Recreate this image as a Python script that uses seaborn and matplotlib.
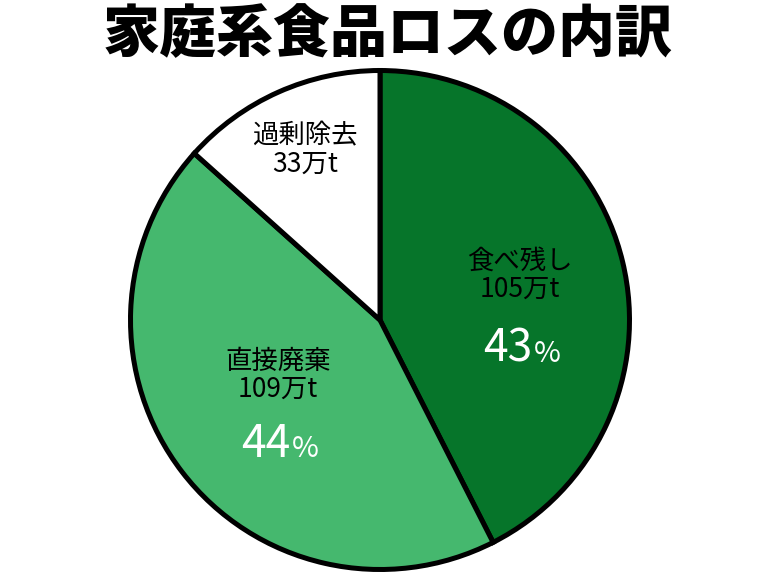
import matplotlib
matplotlib.use("Agg")
import matplotlib.pyplot as plt
import seaborn as sns

TITLE = "家庭系食品ロスの内訳"
categories = ["食べ残し", "直接廃棄", "過剰除去"]
amounts = [105, 109, 33]  # 万t
colors = ["#06752a", "#45b86e", "#ffffff"]
show_pct = [True, True, False]

# label placement in pie data coordinates (name block, percent)
name_pos = [(0.56, 0.18), (-0.41, -0.22), (-0.30, 0.68)]
pct_pos = [(0.61, -0.168), (-0.36, -0.549)]

sns.set_theme(style="white")
plt.rcParams["font.family"] = ["Noto Sans CJK JP", "DejaVu Sans"]

fig = plt.figure(figsize=(7.68, 5.76), dpi=100)
ax = fig.add_axes([130.5 / 768, 6.5 / 576, 499 / 768, 499 / 576])

ax.pie(amounts, colors=colors, startangle=90, counterclock=False, radius=1,
       wedgeprops=dict(edgecolor="black", linewidth=3.6))
ax.set_xlim(-1, 1)
ax.set_ylim(-1, 1)
ax.set_aspect("equal")
ax.axis("off")

total = sum(amounts)
for name, amt, (x, y) in zip(categories, amounts, name_pos):
    ax.text(x, y, f"{name}\n{amt}万t", ha="center", va="center",
            fontsize=19, color="black", linespacing=1.05)

i = 0
for amt, show in zip(amounts, show_pct):
    if not show:
        continue
    x, y = pct_pos[i]
    pct = round(amt / total * 100)
    ax.text(x, y, f"{pct}", ha="right", va="baseline", fontsize=32,
            color="white")
    ax.annotate("%", xy=(x, y), xycoords="data", ha="left", va="baseline",
                fontsize=21, color="white", xytext=(1, 0), textcoords="offset points")
    i += 1

fig.text(388 / 768, 1 - 36 / 576, TITLE, ha="center", va="center",
         fontsize=41, fontweight="black", color="black")

fig.savefig("out.png", dpi=100)
